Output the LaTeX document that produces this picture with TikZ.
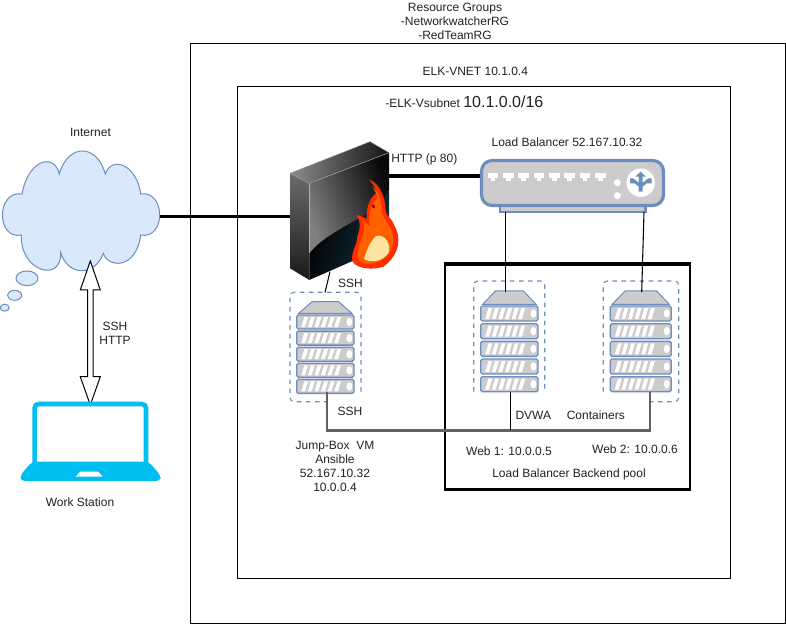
\documentclass[tikz,border=0pt]{standalone}
\usepackage{fontspec}
\setmainfont{Liberation Sans}
\usetikzlibrary{calc}
\definecolor{drawblue}{HTML}{6C8EBF}
\definecolor{fillblue}{HTML}{DAE8FC}
\definecolor{unitgray}{HTML}{CCCCCC}
\definecolor{lapblue}{HTML}{00BEF2}
\definecolor{txt}{HTML}{222222}
\definecolor{tealdark}{HTML}{12303F}
\tikzset{
  lbl/.style={font=\fontsize{9}{10.5}\selectfont,text=txt,inner sep=0pt,align=center},
  port/.style={inner sep=0pt,minimum size=0pt,outer sep=0pt},
  frame/.style={draw=black,line width=.75pt},
  thickwire/.style={draw=black,line width=2.6pt},
  thinwire/.style={draw=black,line width=.8pt},
  graywire/.style={draw=black!62,line width=1.7pt},
  dashbox/.style={draw=drawblue,line width=.85pt,dash pattern=on 3.4pt off 3.4pt,rounded corners=3pt},
  unitbox/.style={draw=drawblue,fill=unitgray,line width=1pt,rounded corners=1.2pt},
  cloudshape/.style={draw=drawblue,fill=fillblue,line width=.75pt},
}
% #1 left x, #2 right x, #3 roof top y, #4 first unit y, #5 step, #6 unit height, #7 roof inset
\newcommand\SrvRack[7]{%
  \fill[unitgray,draw=drawblue,line width=.75pt] (#1+2,#4-1.7) -- (#1+2+#7,#3) -- (#2-2-#7,#3) -- (#2-2,#4-1.7) -- cycle;
  \foreach \k in {0,...,4}{%
    \pgfmathsetmacro\uy{#4+\k*#5}
    \path[unitbox] (#1,\uy) rectangle (#2,\uy+#6);
    \foreach \s in {0,...,5}{%
      \pgfmathsetmacro\sx{#1+4.5+\s*6.6}
      \fill[white] (\sx,\uy+#6-2) -- (\sx+3.8,\uy+#6-2) -- (\sx+7,\uy+2) -- (\sx+3.2,\uy+2) -- cycle;
    }
    \fill[white] (#2-4.6,\uy+#6/2) ellipse (3 and 4.2);
  }%
}
\begin{document}
\begin{tikzpicture}[x=.75pt,y=-.75pt]
\useasboundingbox (0,0) rectangle (786,624);
\fill[white] (0,0) rectangle (786,624);
% frames
\path[frame] (190,43.5) rectangle (785,623);
\path[frame] (237.5,86.5) rectangle (730,578);
\draw[black,line width=1.7pt] (445,264.3) rectangle (690,489.3);
\draw[black,line width=2.7pt] (443.8,264.3) -- (691.2,264.3);
\draw[black,line width=2.7pt] (443.8,489.3) -- (691.2,489.3);

% cloud
\path[cloudshape] (22,194)
  .. controls (-4,190) and (-4,240) .. (21.3,235)
  .. controls (20,272) and (62,283) .. (60.7,252.7)
  .. controls (68,276.6) and (95,276.6) .. (103.3,253.3)
  .. controls (108,268) and (136,270) .. (140.7,235)
  .. controls (166,240) and (166,190) .. (140.7,194)
  .. controls (137,165) and (112,155) .. (105.3,174)
  .. controls (97,143.3) and (68,143.3) .. (59.3,174)
  .. controls (54,152) and (28,160) .. (22,194) -- cycle;
\path[cloudshape] (27,278.3) ellipse (11 and 7.3);
\path[cloudshape] (14.7,295.3) ellipse (7 and 5);
\path[cloudshape] (4.7,307.7) ellipse (4.5 and 3.5);

% ports
\node[port] (cloudE) at (160,216.5) {};
\node[port] (fwW) at (300.5,216.5) {};
\node[port] (fwE) at (385,176) {};
\node[port] (lbW) at (481,176) {};
\node[port] (lbA) at (505.3,212) {};
\node[port] (lbB) at (644,212) {};
\node[port] (webAtop) at (505.3,292) {};
\node[port] (webBtop) at (641.7,292) {};
\node[port] (fwS) at (330,271.7) {};
\node[port] (jumpN) at (325,292.5) {};
\node[port] (jumpS) at (326.7,392.3) {};
\node[port] (webBS) at (650,391.7) {};
\node[port] (bus) at (650,430.5) {};
\node[port] (webAS) at (510.3,391.7) {};
\node[port] (busA) at (510.3,430) {};
\node[port] (arrT) at (90.3,261) {};
\node[port] (arrB) at (90.3,405) {};

\path[thickwire] (cloudE) -- (fwW);

% firewall
\begin{scope}[shift={(270,130)},x=.25pt,y=-.25pt]
  \shade[left color=black!45,right color=black!92] (60,130) -- (300,35) -- (357,68) -- (118,160) -- cycle;
  \shade[top color=black!58,bottom color=black!90] (60,130) -- (118,160) -- (118,450) -- (60,415) -- cycle;
  \shade[shading=axis,left color=black!50,right color=black!97,shading angle=110] (118,160) -- (357,68) -- (357,180)
     .. controls (340,250) and (180,290) .. (118,370) -- cycle;
  \shade[shading=axis,left color=black,right color=tealdark,shading angle=70] (118,370)
     .. controls (180,290) and (340,250) .. (357,180) -- (357,345) -- (118,450) -- cycle;
  \draw[black!30,line width=.5pt] (118,160) -- (118,370);
  \draw[black!40,line width=.4pt] (60,130) -- (118,160) -- (357,68);
  \draw[black!40,line width=.3pt] (60,130) -- (300,35) -- (357,68);
\end{scope}
\path[thickwire] (fwE) -- (lbW);
\begin{scope}[shift={(270,130)},x=.25pt,y=-.25pt]
  % flame
  \fill[orange!35!red] (295,148) .. controls (330,160) and (345,200) .. (347,240)
     .. controls (350,262) and (365,262) .. (372,285)
     .. controls (395,320) and (390,375) .. (340,410)
     .. controls (310,420) and (262,418) .. (248,395)
     .. controls (240,370) and (262,345) .. (262,320)
     .. controls (270,300) and (275,275) .. (258,255)
     .. controls (275,258) and (285,262) .. (290,268)
     .. controls (288,235) and (298,205) .. (318,190)
     .. controls (318,175) and (305,155) .. (295,148) -- cycle;
  \fill[orange!75!red] (305,170) .. controls (335,195) and (335,225) .. (335,250)
     .. controls (345,275) and (378,300) .. (368,345)
     .. controls (360,385) and (315,410) .. (275,398)
     .. controls (252,385) and (265,350) .. (275,325)
     .. controls (285,300) and (285,285) .. (278,272)
     .. controls (290,280) and (298,285) .. (300,290)
     .. controls (295,255) and (300,225) .. (322,205)
     .. controls (320,190) and (312,178) .. (305,170) -- cycle;
  \fill[yellow!45!orange!35!white] (282,387) .. controls (290,360) and (300,335) .. (318,318)
     .. controls (345,310) and (365,345) .. (355,370)
     .. controls (335,397) and (300,398) .. (282,387) -- cycle;
  \fill[red!70!black] (305,225) .. controls (312,220) and (318,228) .. (315,235) .. controls (310,238) and (305,232) .. (305,225) -- cycle;
\end{scope}

% load balancer
\draw[drawblue,fill=unitgray,line width=2pt] (500,205.7) rectangle (645.7,212);
\draw[drawblue,fill=unitgray,line width=2.4pt,rounded corners=8pt] (481.5,160.5) rectangle (663.5,205.5);
\foreach \i in {0,...,7}{
  \pgfmathsetmacro\px{487.7+\i*15.3}
  \fill[white] (\px,173.3) rectangle (\px+10.7,178.5);
  \fill[white] (\px+3,178.5) rectangle (\px+7.7,180.7);
}
\fill[white] (617.3,182.7) circle (3.5);
\fill[white] (617.3,195.7) circle (3.5);
\fill[white] (640.7,182.7) circle (14.2);
\begin{scope}[shift={(470,150)},x=.25pt,y=-.25pt]
  \fill[drawblue] (512,65) -- (528,80) -- (518,80) -- (518,98) -- (535,85) -- (545,85) -- (545,100) -- (530,100) -- (518,110) -- (518,125) -- (506,125) -- (506,110) -- (494,100) -- (480,100) -- (480,85) -- (490,85) -- (506,98) -- (506,80) -- (496,80) -- cycle;
\end{scope}

% servers
\SrvRack{296.7}{354}{301.7}{315}{16.1}{14}{13.4}
\SrvRack{480.7}{538}{291}{306}{17.67}{15}{12.7}
\SrvRack{610.3}{671.3}{291}{306}{17.67}{15}{12.7}
\draw[dashbox] (361,391.7) -- (361,292.3) -- (290,292.3) -- (290,401.7) -- (326,401.7);
\draw[dashbox] (473.7,391.7) -- (473.7,281) -- (544.7,281) -- (544.7,391.7);
\draw[dashbox] (603.3,391.7) -- (603.3,281) -- (678.7,281) -- (678.7,401.7) -- (650,401.7);

% connectors
\path[thinwire] (lbA) -- (webAtop);
\path[thinwire] (lbB) -- (webBtop);
\path[thinwire] (fwS) -- (jumpN);
\path[graywire] (jumpS.center) |- (bus.center) -- (webBS.center);
\path[thinwire] (webAS) -- (busA);

% double arrow
\draw[black,fill=white,line width=.75pt,line join=miter]
  (arrT.center) -- ($(arrT.center)+(10,29)$) -- ($(arrT.center)+(2.7,29)$)
  -- ($(arrB.center)+(2.7,-28.3)$) -- ($(arrB.center)+(10,-28.3)$) -- (arrB.center)
  -- ($(arrB.center)+(-10,-28.3)$) -- ($(arrB.center)+(-2.7,-28.3)$)
  -- ($(arrT.center)+(-2.7,29)$) -- ($(arrT.center)+(-10,29)$) -- cycle;

% laptop
\draw[lapblue,line width=3.4pt,rounded corners=3pt] (34.6,463) -- (34.6,404) -- (146,404) -- (146,463);
\fill[lapblue,rounded corners=3pt] (32.3,461.5) -- (148.3,461.5) -- (160.5,475) -- (160.5,481) -- (20.5,481) -- (20.5,475) -- cycle;
\fill[white] (80,471.7) -- (98.3,471.7) -- (102.7,476.7) -- (75.7,476.7) -- cycle;

% labels
\node[lbl] (rg) at (455,21) {Resource Groups\\-NetworkwatcherRG\\-RedTeamRG};
\node[lbl] (vnet) at (475.3,71.7) {ELK-VNET 10.1.0.4};
\node[lbl,anchor=west] (vsub) at (385,102) {-ELK-Vsubnet {\fontsize{12}{14}\selectfont 10.1.0.0/16}};
\node[lbl] (lbt) at (567,142) {Load Balancer 52.167.10.32};
\node[lbl,anchor=west] (http) at (391,159.5) {HTTP (p 80)};
\node[lbl] (inet) at (90.5,132) {Internet};
\node[lbl] (ssha) at (350.5,283) {SSH};
\node[lbl] (sshb) at (350,411.7) {SSH};
\node[lbl] (jump) at (335,466.7) {Jump-Box\ \ VM\\Ansible\\52.167.10.32\\10.0.0.4};
\node[lbl] (sshh) at (115,333.3) {SSH\\HTTP};
\node[lbl] (ws) at (80,502) {Work Station};
\node[lbl] (dvwa) at (533.3,415.7) {DVWA};
\node[lbl] (cont) at (595.8,415.7) {Containers};
\node[lbl] (w1) at (509,451.7) {Web 1: 10.0.0.5};
\node[lbl] (w2) at (635,449.3) {Web 2: 10.0.0.6};
\node[lbl] (pool) at (569,474.3) {Load Balancer Backend pool};
\end{tikzpicture}
\end{document}
